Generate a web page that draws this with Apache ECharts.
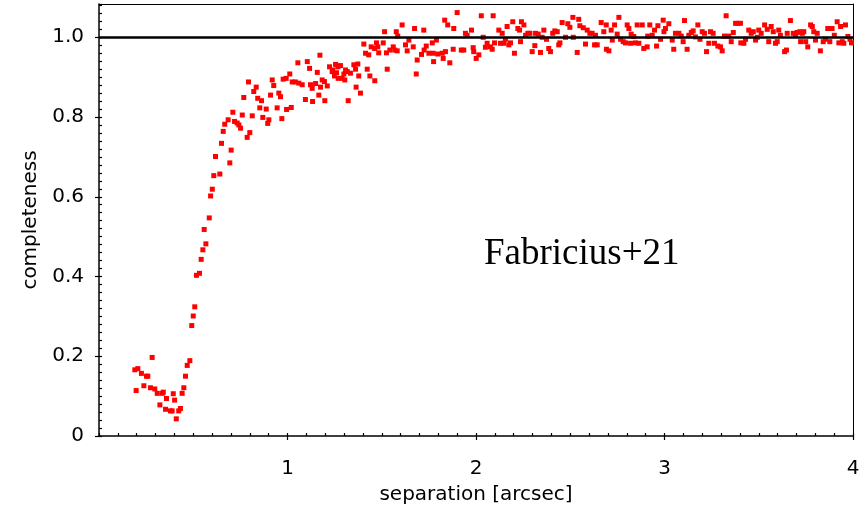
<!DOCTYPE html>
<html>
<head>
<meta charset="utf-8">
<title>completeness vs separation</title>
<script src="https://cdn.jsdelivr.net/npm/echarts@6/dist/echarts.min.js"></script>
<style>
  html, body { margin: 0; padding: 0; background: #fff; }
  #main { width: 866px; height: 507px; }
</style>
</head>
<body>
<div id="main"></div>
<script>
// [separation (arcsec), completeness]
const dipPoints = [
  [0.190, 0.166], [0.197, 0.114], [0.206, 0.169], [0.225, 0.157], [0.238, 0.126],
  [0.252, 0.150], [0.259, 0.150], [0.273, 0.121], [0.282, 0.197], [0.296, 0.118],
  [0.309, 0.107], [0.323, 0.078], [0.335, 0.107], [0.341, 0.110], [0.353, 0.067],
  [0.358, 0.094], [0.379, 0.063], [0.388, 0.063], [0.394, 0.106], [0.401, 0.090],
  [0.410, 0.043], [0.423, 0.063], [0.432, 0.069], [0.441, 0.107], [0.450, 0.121],
  [0.459, 0.150], [0.468, 0.177], [0.482, 0.189]
];

const risePoints = [
  [0.492, 0.277], [0.500, 0.301], [0.508, 0.324], [0.517, 0.403], [0.533, 0.408],
  [0.542, 0.443], [0.551, 0.467], [0.558, 0.518], [0.567, 0.482], [0.585, 0.547],
  [0.592, 0.602], [0.601, 0.619], [0.609, 0.653], [0.618, 0.701], [0.641, 0.657],
  [0.650, 0.734], [0.659, 0.764], [0.667, 0.782], [0.685, 0.793], [0.694, 0.685],
  [0.701, 0.717], [0.710, 0.812], [0.719, 0.789], [0.733, 0.785], [0.742, 0.780],
  [0.751, 0.772], [0.760, 0.805], [0.768, 0.849], [0.786, 0.749], [0.793, 0.888]
];

const kneePoints = [
  [0.800, 0.761], [0.813, 0.803], [0.821, 0.864], [0.834, 0.875], [0.842, 0.847],
  [0.853, 0.823], [0.862, 0.841], [0.869, 0.799], [0.887, 0.820], [0.895, 0.784],
  [0.901, 0.793], [0.910, 0.855], [0.919, 0.893], [0.927, 0.879], [0.945, 0.823],
  [0.954, 0.860], [0.963, 0.851], [0.970, 0.796], [0.977, 0.895], [0.993, 0.897],
  [0.995, 0.819], [1.012, 0.908], [1.020, 0.824], [1.025, 0.888], [1.042, 0.888],
  [1.055, 0.936], [1.060, 0.885], [1.078, 0.881], [1.095, 0.844], [1.105, 0.939],
  [1.117, 0.922], [1.122, 0.881], [1.131, 0.872], [1.133, 0.839], [1.149, 0.884],
  [1.158, 0.912], [1.166, 0.855], [1.172, 0.955], [1.175, 0.875], [1.184, 0.893],
  [1.196, 0.889], [1.198, 0.841], [1.211, 0.878], [1.223, 0.926], [1.237, 0.914],
  [1.240, 0.918], [1.249, 0.903], [1.255, 0.932], [1.260, 0.911], [1.267, 0.926],
  [1.269, 0.897], [1.281, 0.929], [1.290, 0.897], [1.299, 0.908], [1.304, 0.893],
  [1.308, 0.918], [1.317, 0.914], [1.322, 0.841], [1.334, 0.910], [1.352, 0.931],
  [1.361, 0.920], [1.364, 0.875], [1.373, 0.933], [1.378, 0.903], [1.387, 0.860],
  [1.405, 0.983], [1.414, 0.960], [1.423, 0.920], [1.431, 0.956], [1.437, 0.903],
  [1.444, 0.976], [1.462, 0.972], [1.463, 0.891], [1.472, 0.986], [1.479, 0.976],
  [1.484, 0.961], [1.508, 0.986], [1.515, 1.014], [1.525, 0.961], [1.529, 0.920],
  [1.543, 0.968], [1.561, 0.976], [1.569, 0.968], [1.577, 1.014], [1.582, 0.966],
  [1.585, 1.003], [1.608, 1.031], [1.626, 0.981], [1.635, 0.966], [1.644, 0.993],
  [1.667, 0.976], [1.674, 1.022], [1.683, 0.908], [1.688, 0.943], [1.711, 0.957],
  [1.723, 1.018], [1.725, 0.968], [1.736, 0.978], [1.750, 0.960], [1.768, 0.986],
  [1.773, 0.960], [1.775, 0.939], [1.790, 0.993], [1.797, 0.958], [1.821, 0.960],
  [1.826, 0.947], [1.834, 1.043], [1.838, 0.964], [1.850, 1.031], [1.861, 0.936]
];

const plateauPoints = [
  [1.879, 0.970], [1.882, 1.022], [1.900, 1.062], [1.922, 0.968], [1.935, 0.968],
  [1.944, 1.010], [1.953, 1.005], [1.976, 1.018], [1.985, 0.974], [1.988, 0.964],
  [2.001, 0.947], [2.015, 0.956], [2.028, 1.054], [2.038, 1.000], [2.050, 0.975],
  [2.059, 0.985], [2.077, 0.976], [2.086, 0.970], [2.091, 1.054], [2.098, 0.986],
  [2.121, 1.018], [2.130, 0.985], [2.139, 1.010], [2.147, 0.985], [2.156, 0.995],
  [2.165, 1.027], [2.174, 0.981], [2.183, 0.986], [2.195, 1.039], [2.204, 0.960],
  [2.222, 1.022], [2.231, 1.018], [2.236, 0.989], [2.241, 1.039], [2.254, 1.031],
  [2.263, 1.005], [2.275, 1.010], [2.286, 1.010], [2.298, 0.964], [2.312, 0.979],
  [2.316, 1.010], [2.330, 1.008], [2.342, 0.962], [2.351, 1.000], [2.360, 1.018],
  [2.374, 0.995], [2.386, 0.972], [2.395, 0.964], [2.407, 1.010], [2.418, 1.016],
  [2.431, 1.014], [2.439, 0.981], [2.445, 0.986], [2.457, 1.037], [2.475, 1.000],
  [2.487, 1.034], [2.498, 1.025], [2.514, 1.050], [2.516, 1.000], [2.537, 0.962],
  [2.545, 1.045], [2.551, 1.029], [2.569, 1.024], [2.581, 0.983], [2.590, 1.018],
  [2.604, 1.010], [2.616, 1.010], [2.629, 0.981], [2.634, 1.005], [2.643, 0.981],
  [2.664, 1.037], [2.678, 1.014], [2.691, 1.031], [2.692, 0.970], [2.705, 0.966],
  [2.717, 1.018], [2.723, 0.993], [2.735, 1.031], [2.749, 1.008], [2.758, 1.050],
  [2.767, 0.995], [2.781, 0.989], [2.793, 0.986], [2.802, 1.031], [2.811, 1.022],
  [2.820, 0.985], [2.823, 1.008], [2.837, 1.002], [2.846, 0.986], [2.855, 1.031],
  [2.864, 0.985]
];

const tailPoints = [
  [2.882, 1.031], [2.890, 0.972], [2.908, 0.976], [2.911, 1.003], [2.922, 1.031],
  [2.935, 1.005], [2.947, 1.018], [2.958, 0.978], [2.965, 1.029], [2.979, 0.995],
  [2.993, 1.043], [2.997, 1.014], [3.005, 1.022], [3.023, 1.034], [3.041, 0.993],
  [3.049, 0.970], [3.058, 1.010], [3.076, 1.010], [3.089, 1.003], [3.099, 0.989],
  [3.106, 1.042], [3.120, 0.970], [3.129, 1.005], [3.142, 1.012], [3.152, 1.016],
  [3.164, 1.001], [3.177, 1.031], [3.188, 0.995], [3.200, 1.014], [3.212, 1.010],
  [3.223, 0.964], [3.235, 0.985], [3.244, 1.014], [3.258, 1.010], [3.265, 0.985],
  [3.283, 0.978], [3.297, 0.976], [3.306, 0.966], [3.318, 1.003], [3.327, 1.054],
  [3.341, 1.003], [3.354, 0.989], [3.365, 1.012], [3.377, 1.035], [3.389, 1.035],
  [3.403, 1.035], [3.405, 0.986], [3.421, 0.985], [3.430, 0.995], [3.447, 1.018],
  [3.460, 1.010], [3.471, 1.014], [3.483, 0.993], [3.492, 1.000], [3.500, 1.018],
  [3.513, 1.010], [3.531, 1.031], [3.545, 1.020], [3.553, 0.989], [3.566, 1.027],
  [3.577, 1.014], [3.589, 0.985], [3.598, 0.989], [3.606, 1.018], [3.615, 1.005],
  [3.637, 0.964], [3.647, 0.968], [3.651, 1.010], [3.668, 1.042], [3.683, 1.010],
  [3.695, 1.005], [3.704, 1.012], [3.718, 1.014], [3.722, 0.989], [3.731, 1.010],
  [3.739, 1.014], [3.749, 0.989], [3.760, 0.976], [3.775, 1.031], [3.784, 1.027],
  [3.792, 1.014], [3.801, 0.993], [3.810, 1.010], [3.827, 0.966], [3.842, 0.989],
  [3.854, 0.995], [3.866, 1.022], [3.877, 0.989], [3.889, 1.022], [3.901, 1.005],
  [3.916, 1.039], [3.925, 0.986], [3.934, 1.027], [3.943, 0.989], [3.951, 0.985],
  [3.960, 1.031], [3.973, 1.002], [3.984, 0.995], [3.992, 0.986]
];

const referenceLevel = 1.0;
const xRange = [0, 4];
const yRange = [0, 1.0835];

const allPoints = [].concat(dipPoints, risePoints, kneePoints, plateauPoints, tailPoints);

const FONT = '"DejaVu Sans", sans-serif';
const labelStyle = { color: '#000', fontSize: 20, fontFamily: FONT };
const axisLineStyle = { color: '#000', width: 1.5 };
const tickStyle = { color: '#000', width: 1.2 };
const CLEAR = 'rgba(0,0,0,0)';

// plot box and two 3px strips along its left and bottom edges; the strips
// carry the fine ticks as split lines of their own axes
const PLOT = { left: 99, right: 13, top: 4, bottom: 71 };
const FINE = 3;

// plain frame side (top / right), no ticks or labels
function frameAxis(position, range) {
  return {
    type: 'value', min: range[0], max: range[1], position: position,
    axisLine: { show: true, onZero: false, lineStyle: { color: '#000', width: 1 } },
    axisTick: { show: false }, axisLabel: { show: false }, splitLine: { show: false }
  };
}

function fineAxis(gridIndex, range, step) {
  return {
    type: 'value', gridIndex: gridIndex, min: range[0], max: range[1], interval: step,
    axisLine: { show: false, onZero: false },
    axisTick: { show: false },
    axisLabel: { show: true, color: CLEAR, fontSize: 6 },
    splitLine: { show: true, lineStyle: tickStyle }
  };
}

function hiddenAxis(gridIndex) {
  return { type: 'value', gridIndex: gridIndex, min: 0, max: 1, show: false };
}

const chart = echarts.init(document.getElementById('main'), null, { renderer: 'canvas' });

chart.setOption({
  animation: false,
  backgroundColor: '#fff',
  grid: [
    Object.assign({ outerBoundsMode: 'none', containLabel: false, show: false }, PLOT),
    {
      left: PLOT.left, right: PLOT.right, top: 507 - PLOT.bottom - FINE, height: FINE,
      outerBoundsMode: 'none', containLabel: false, show: false
    },
    {
      left: PLOT.left, width: FINE, top: PLOT.top, bottom: PLOT.bottom,
      outerBoundsMode: 'none', containLabel: false, show: false
    }
  ],
  xAxis: [
    {
      type: 'value', gridIndex: 0, min: xRange[0], max: xRange[1], interval: 1, position: 'bottom',
      name: 'separation [arcsec]', nameLocation: 'middle', nameGap: 49,
      nameTextStyle: labelStyle,
      axisLine: { show: true, onZero: false, lineStyle: axisLineStyle },
      axisTick: { show: true, inside: false, length: 4, lineStyle: tickStyle },
      axisLabel: Object.assign({ showMinLabel: false, margin: 23 }, labelStyle),
      splitLine: { show: false }
    },
    Object.assign(frameAxis('top', xRange), { gridIndex: 0 }),
    fineAxis(1, xRange, 0.1),
    hiddenAxis(2)
  ],
  yAxis: [
    {
      type: 'value', gridIndex: 0, min: yRange[0], max: yRange[1], interval: 0.2, position: 'left',
      name: 'completeness', nameLocation: 'middle', nameGap: 58,
      nameTextStyle: labelStyle,
      axisLine: { show: true, onZero: false, lineStyle: axisLineStyle },
      axisTick: { show: true, inside: false, length: 4, lineStyle: tickStyle },
      axisLabel: Object.assign({
        showMaxLabel: false, margin: 15,
        formatter: v => (v === 0 ? '0' : v.toFixed(1))
      }, labelStyle),
      splitLine: { show: false }
    },
    Object.assign(frameAxis('right', yRange), { gridIndex: 0 }),
    hiddenAxis(1),
    fineAxis(2, yRange, 0.02)
  ],
  graphic: [
    {
      type: 'text', x: 484, y: 254, z: 10,
      style: {
        text: 'Fabricius+21',
        font: '37px "Liberation Serif", "Times New Roman", serif',
        fill: '#000', align: 'left', verticalAlign: 'middle'
      }
    }
  ],
  series: [
    {
      type: 'scatter', xAxisIndex: 0, yAxisIndex: 0,
      symbol: 'rect', symbolSize: 5,
      itemStyle: { color: '#ff0000', opacity: 1 },
      data: allPoints,
      markLine: {
        silent: true, symbol: 'none', animation: false,
        label: { show: false },
        lineStyle: { color: '#000', width: 2.5, type: 'solid' },
        data: [{ yAxis: referenceLevel }]
      }
    }
  ]
});
</script>
</body>
</html>
